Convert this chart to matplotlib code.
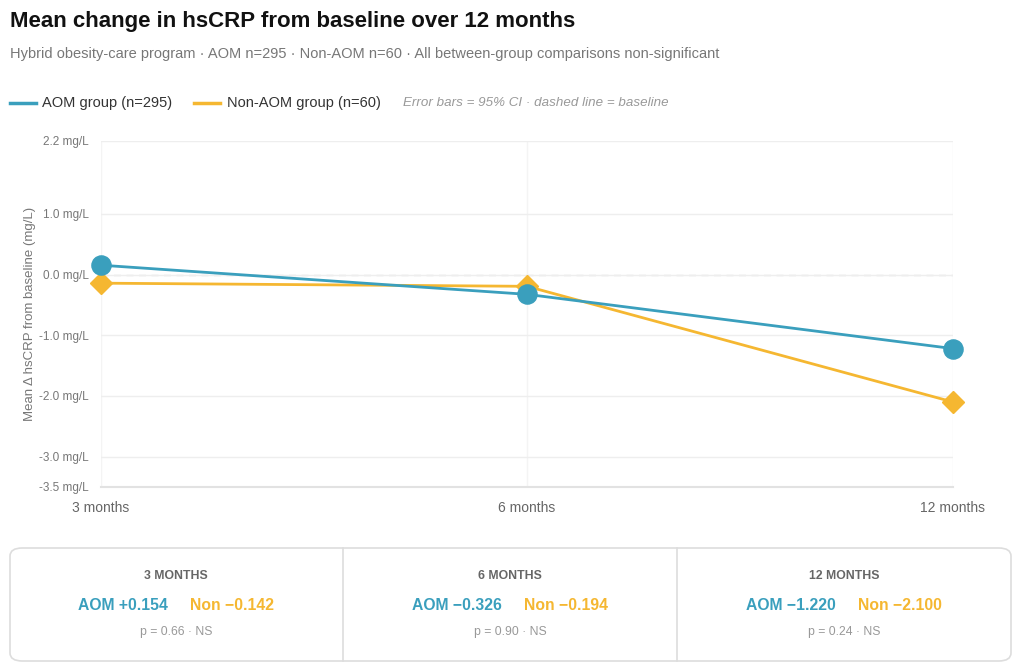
import matplotlib.pyplot as plt
from matplotlib.patches import FancyBboxPatch
from matplotlib.lines import Line2D

plt.rcParams['font.family'] = ['Liberation Sans', 'DejaVu Sans']

timepoints = ['3 months', '6 months', '12 months']
aom = [0.154, -0.326, -1.220]
non_aom = [-0.142, -0.194, -2.100]
p_values = ['0.66', '0.90', '0.24']
y_ticks = [2.2, 1.0, 0.0, -1.0, -2.0, -3.0, -3.5]

blue = '#3a9fbd'
orange = '#f5b731'
grey_txt = '#777777'

W, H = 1024, 671
fig = plt.figure(figsize=(W / 100, H / 100), dpi=100)

def fx(px):
    return px / W

def fy(py):
    return 1 - py / H

ax = fig.add_axes([fx(101), fy(487), fx(953) - fx(101), fy(141) - fy(487)])
xs = list(range(len(timepoints)))

ax.plot(xs, non_aom, color=orange, lw=2, marker='D', ms=10.7, zorder=3, clip_on=False)
ax.plot(xs, aom, color=blue, lw=2, marker='o', ms=13.8, zorder=4, clip_on=False)
ax.axhline(0, color='#d8d8d8', lw=1, ls=(0, (5, 4)), zorder=1)

ax.set_xlim(0, 2)
ax.set_ylim(-3.5, 2.2)
ax.set_yticks(y_ticks)
ax.set_yticklabels([f'{v:.1f} mg/L' for v in y_ticks])
ax.set_xticks(xs)
ax.set_xticklabels(timepoints)
ax.tick_params(axis='y', length=0, pad=9, labelsize=8.5, labelcolor=grey_txt)
ax.tick_params(axis='x', length=0, pad=10, labelsize=10, labelcolor='#666666')
ax.grid(True, axis='y', color='#eeeeee', lw=1, zorder=0)
ax.grid(True, axis='x', color='#f4f4f4', lw=1, zorder=0)
for s in ['top', 'right', 'left']:
    ax.spines[s].set_visible(False)
ax.spines['bottom'].set_color('#e2e2e2')
ax.spines['bottom'].set_linewidth(1.5)
ax.set_ylabel('Mean Δ hsCRP from baseline (mg/L)', fontsize=9.5, color=grey_txt, labelpad=2)

# title block
fig.text(fx(10), fy(21), 'Mean change in hsCRP from baseline over 12 months',
         fontsize=16, fontweight='bold', color='#111111', va='center')
fig.text(fx(10), fy(54), 'Hybrid obesity-care program · AOM n=295 · Non-AOM n=60 · All between-group comparisons non-significant',
         fontsize=10.5, color=grey_txt, va='center')

# legend row
fig.add_artist(Line2D([fx(10), fx(36)], [fy(103), fy(103)], color=blue, lw=2.5))
fig.text(fx(42), fy(103), 'AOM group (n=295)', fontsize=10.5, color='#333333', va='center')
fig.add_artist(Line2D([fx(194), fx(220)], [fy(103), fy(103)], color=orange, lw=2.5))
fig.text(fx(227), fy(103), 'Non-AOM group (n=60)', fontsize=10.5, color='#333333', va='center')
fig.text(fx(403), fy(103), 'Error bars = 95% CI · dashed line = baseline', fontsize=9.6,
         color='#999999', style='italic', va='center')

# summary cards
box = FancyBboxPatch((fx(10), fy(661)), fx(1011) - fx(10), fy(548) - fy(661),
                     boxstyle='round,pad=0,rounding_size=0.012', transform=fig.transFigure,
                     facecolor='white', edgecolor='#dddddd', lw=1.2)
fig.add_artist(box)
for xd in [343, 677]:
    fig.add_artist(Line2D([fx(xd), fx(xd)], [fy(661), fy(548)], color='#dddddd', lw=1.2))

centers = [176, 510, 844]
for i, c in enumerate(centers):
    fig.text(fx(c), fy(576), timepoints[i].upper(), fontsize=8.8, fontweight='bold',
             color='#666666', ha='center', va='center')
    a_txt = f'AOM {aom[i]:+.3f}'.replace('-', '−')
    n_txt = f'Non {non_aom[i]:+.3f}'.replace('-', '−')
    fig.text(fx(c - 8), fy(605), a_txt, fontsize=11.3, fontweight='bold', color=blue,
             ha='right', va='center')
    fig.text(fx(c + 14), fy(605), n_txt, fontsize=11.3, fontweight='bold', color=orange,
             ha='left', va='center')
    fig.text(fx(c), fy(632), f'p = {p_values[i]} · NS', fontsize=8.8, color='#999999',
             ha='center', va='center')

fig.savefig('out.png', dpi=100)
